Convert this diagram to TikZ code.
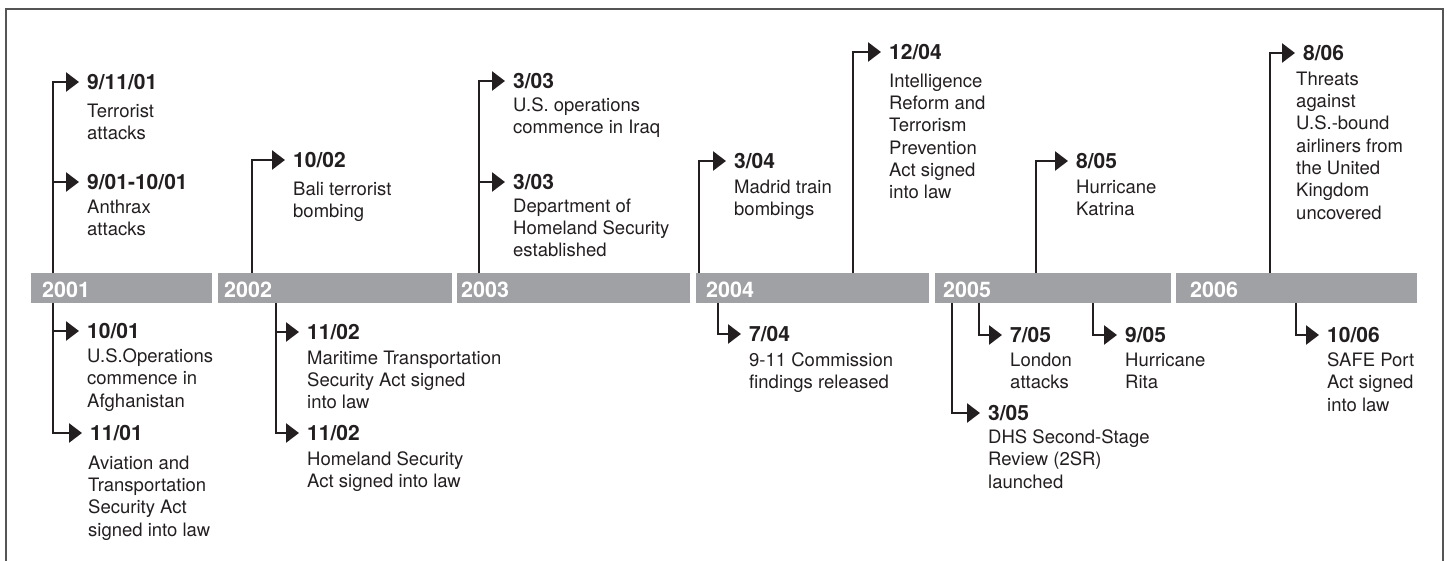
\documentclass[tikz,border=0pt]{standalone}
\usepackage{fontspec}
\setmainfont{TeX Gyre Heros}
\usetikzlibrary{arrows.meta}
\definecolor{bargray}{HTML}{A0A1A4}
\definecolor{ink}{HTML}{231F20}
\definecolor{framegray}{HTML}{555555}
\tikzset{
    frame/.style={draw=framegray, line width=1.8pt},
    year/.style={anchor=west, inner sep=0pt, text=white, font=\fontsize{21.5}{24}\selectfont\bfseries},
    date/.style={anchor=west, inner sep=0pt, text=ink, font=\fontsize{21}{24}\selectfont\bfseries},
    desc/.style={anchor=north west, yshift=13.4pt, inner sep=0pt, align=left, text=ink, font=\fontsize{18.5}{22.3}\selectfont},
    link/.style={draw=ink, line width=2.7pt, -{Triangle[length=13pt,width=19pt]}, shorten >=8pt},
}
\begin{document}
    \begin{tikzpicture}[x=1pt,y=-1pt]
        \useasboundingbox (0,0) rectangle (1447,561);
        \draw[frame] (6,561) |- (1443,9) -- (1443,561);

        \fill[bargray] (31,273) rectangle (212,303);
        \fill[bargray] (218,273) rectangle (452,303);
        \fill[bargray] (457,273) rectangle (690,303);
        \fill[bargray] (696,273) rectangle (929,303);
        \fill[bargray] (935,273) rectangle (1171,303);
        \fill[bargray] (1176,273) rectangle (1417,303);
        \node[year] (y2001) at (42,289.5) {2001};
        \node[year] (y2002) at (224,289.5) {2002};
        \node[year] (y2003) at (461,289.5) {2003};
        \node[year] (y2004) at (706,289.5) {2004};
        \node[year] (y2005) at (943,289.5) {2005};
        \node[year] (y2006) at (1190,289.5) {2006};

        \coordinate (u2001) at (53,273);
        \coordinate (u1002) at (252,273);
        \coordinate (u2003) at (479,273);
        \coordinate (u0304) at (699,273);
        \coordinate (u1204) at (853,273);
        \coordinate (u0805) at (1036,273);
        \coordinate (u0806) at (1270,273);
        \coordinate (l2001) at (53,303);
        \coordinate (l2002) at (276,303);
        \coordinate (l0704) at (718,303);
        \coordinate (l0305) at (952,303);
        \coordinate (l0705) at (979,303);
        \coordinate (l0905) at (1093,303);
        \coordinate (l1006) at (1296,303);

        \node[date] (d0911) at (87,82) {9/11/01};
        \node[desc] at (87,117) {Terrorist\\attacks};
        \node[date] (d0901) at (87,182) {9/01-10/01};
        \node[desc] at (87,213) {Anthrax\\attacks};
        \draw[link] (u2001) |- (d0911.west);
        \draw[link] (d0901.west -| u2001) -- (d0901.west);

        \node[date] (d1002) at (293,160) {10/02};
        \node[desc] at (293,195) {Bali terrorist\\bombing};
        \draw[link] (u1002) |- (d1002.west);

        \node[date] (d0303a) at (513,81) {3/03};
        \node[desc] at (513,111) {U.S. operations\\commence in Iraq};
        \node[date] (d0303b) at (513,182) {3/03};
        \node[desc] at (513,212) {Department of\\Homeland Security\\established};
        \draw[link] (u2003) |- (d0303a.west);
        \draw[link] (d0303b.west -| u2003) -- (d0303b.west);

        \node[date] (d0304) at (734,161) {3/04};
        \node[desc] at (734,193) {Madrid train\\bombings};
        \draw[link] (u0304) |- (d0304.west);

        \node[date] (d1204) at (889,52) {12/04};
        \node[desc] at (889,87) {Intelligence\\Reform and\\Terrorism\\Prevention\\Act signed\\into law};
        \draw[link] (u1204) |- (d1204.west);

        \node[date] (d0805) at (1076,161) {8/05};
        \node[desc] at (1076,193) {Hurricane\\Katrina};
        \draw[link] (u0805) |- (d0805.west);

        \node[date] (d0806) at (1303,53) {8/06};
        \node[desc] at (1296,85) {Threats\\against\\U.S.-bound\\airliners from\\the United\\Kingdom\\uncovered};
        \draw[link] (u0806) |- (d0806.west);

        \node[date] (d1001) at (87,331) {10/01};
        \node[desc] at (87,362) {U.S.Operations\\commence in\\Afghanistan};
        \node[date] (d1101) at (90,433) {11/01};
        \node[desc] at (88,469) {Aviation and\\Transportation\\Security Act\\signed into law};
        \draw[link] (l2001) |- (d1101.west);
        \draw[link] (d1001.west -| l2001) -- (d1001.west);

        \node[date] (d1102a) at (307,332) {11/02};
        \node[desc] at (307,364) {Maritime Transportation\\Security Act signed\\into law};
        \node[date] (d1102b) at (307,433) {11/02};
        \node[desc] at (307,465) {Homeland Security\\Act signed into law};
        \draw[link] (l2002) |- (d1102b.west);
        \draw[link] (d1102a.west -| l2002) -- (d1102a.west);

        \node[date] (d0704) at (749,334) {7/04};
        \node[desc] at (749,366) {9-11 Commission\\findings released};
        \draw[link] (l0704) |- (d0704.west);

        \node[date] (d0305) at (988,413) {3/05};
        \node[desc] at (988,443) {DHS Second-Stage\\Review (2SR)\\launched};
        \draw[link] (l0305) |- (d0305.west);

        \node[date] (d0705) at (1010,335) {7/05};
        \node[desc] at (1010,366) {London\\attacks};
        \draw[link] (l0705) |- (d0705.west);

        \node[date] (d0905) at (1125,335) {9/05};
        \node[desc] at (1125,366) {Hurricane\\Rita};
        \draw[link] (l0905) |- (d0905.west);

        \node[date] (d1006) at (1327,335) {10/06};
        \node[desc] at (1327,366) {SAFE Port\\Act signed\\into law};
        \draw[link] (l1006) |- (d1006.west);
    \end{tikzpicture}
\end{document}
